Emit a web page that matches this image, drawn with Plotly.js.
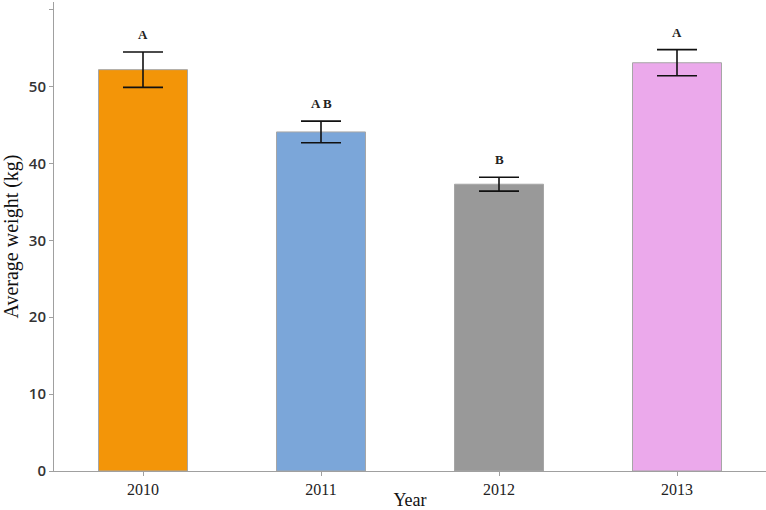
<!DOCTYPE html>
<html><head><meta charset="utf-8">
<script src="https://cdn.plot.ly/plotly-3.0.1.min.js"></script>
<style>body{margin:0;background:#fff}#chart{width:766px;height:510px}</style>
</head><body><div id="chart"></div>
<script>
const years = ['2010', '2011', '2012', '2013'];
const avgWeight = [52.2, 44.1, 37.3, 53.1];
const stdErr = [2.3, 1.4, 0.9, 1.7];
const groupLetters = ['A', 'A B', 'B', 'A'];
const barColors = ['#F39508', '#7BA6D9', '#999999', '#EBA9EB'];

const trace = {
  type: 'bar', x: years, y: avgWeight, width: 0.5,
  marker: {color: barColors, line: {color: '#a6a6a6', width: 1}},
  error_y: {type: 'data', array: stdErr, visible: true, color: '#111', thickness: 1.6, width: 20},
  hoverinfo: 'none'
};
const annotations = years.map((yr, i) => ({
  x: i, xref: 'x', y: avgWeight[i] + stdErr[i], yref: 'y', text: '<b>' + groupLetters[i] + '</b>', showarrow: false,
  yanchor: 'bottom', yshift: 8,
  font: {family: 'Liberation Serif', size: 13, color: '#222'}
}));
const layout = {
  width: 766, height: 510,
  margin: {l: 54, r: 0, t: 2, b: 39},
  paper_bgcolor: '#fff', plot_bgcolor: '#fff',
  showlegend: false,
  xaxis: {
    type: 'category', range: [-0.5, 3.5], showgrid: false, zeroline: false,
    showline: true, linecolor: '#a0a0a0', linewidth: 1,
    ticks: 'outside', ticklen: 4, tickcolor: '#a0a0a0',
    tickfont: {family: 'Liberation Serif', size: 16, color: '#222'},
    title: {text: 'Year', font: {family: 'Liberation Serif', size: 18, color: '#111'}, standoff: 5}
  },
  yaxis: {
    range: [0, 61], tickvals: [0, 10, 20, 30, 40, 50, 60], showgrid: false, zeroline: false,
    showline: true, linecolor: '#a0a0a0', linewidth: 1,
    ticks: 'outside', ticklen: 4, tickcolor: '#a0a0a0',
    tickfont: {family: 'Open Sans', size: 15, color: '#333', weight: 600},
    title: {text: 'Average weight (kg)', font: {family: 'Liberation Serif', size: 20, color: '#111'}, standoff: 7}
  },
  annotations: annotations
};
Plotly.newPlot('chart', [trace], layout, {displayModeBar: false, staticPlot: true});
</script></body></html>
